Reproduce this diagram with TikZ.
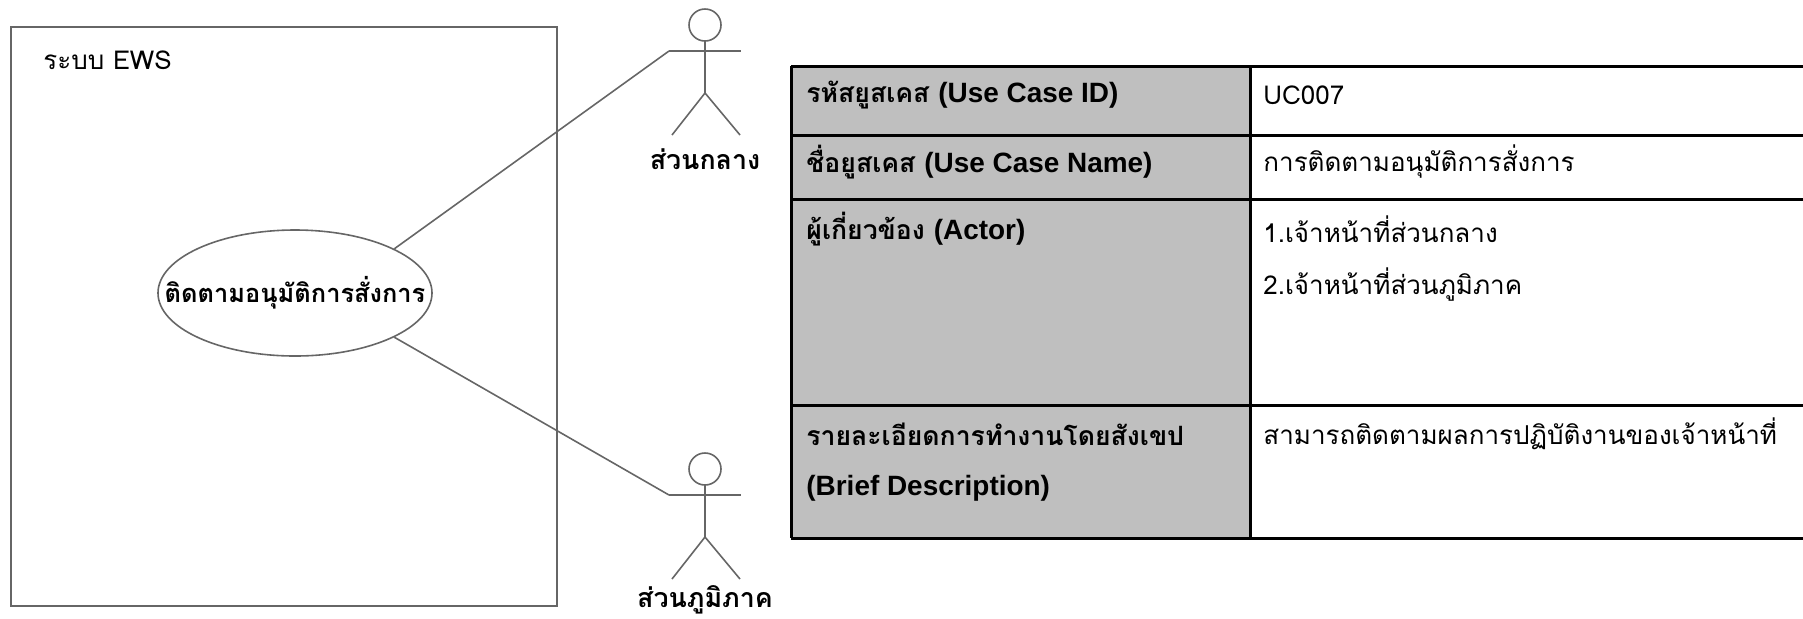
\documentclass[tikz,border=0pt]{standalone}
\usepackage{fontspec}
\setmainfont[Script=Thai]{Loma}
\newfontfamily\latin[Scale=1.05]{Liberation Sans}
\usetikzlibrary{shapes.geometric}
\tikzset{
  uml/.style={draw=black!60, line width=0.8pt},
  grid/.style={line width=1.5pt},
  cell/.style={anchor=west, inner sep=0pt, font=\fontsize{13}{15}\selectfont},
  head/.style={cell, font=\fontsize{13.3}{15}\selectfont\bfseries},
  actor/.style={font=\fontsize{13.4}{15}\selectfont\bfseries}
}
\begin{document}
\begin{tikzpicture}[x=0.5pt,y=-0.5pt]
	\useasboundingbox (0,0) rectangle (1803,618);
	% use case diagram
	\draw[uml] (11,27) rectangle (557,606);
	\node[anchor=west, inner sep=0pt, font=\fontsize{13}{15}\selectfont] (sys) at (43,60) {ระบบ EWS};
	\node[uml, ellipse, minimum width=137pt, minimum height=63pt, inner sep=0pt, font=\fontsize{12.7}{15}\selectfont\bfseries] (uc) at (295,293) {\makebox[0pt]{ติดตามอนุมัติการสั่งการ}};
	\foreach \y/\n in {0/a1,444/a2} {
		\draw[uml] (705,25+\y) circle (16);
		\draw[uml] (669,51+\y) -- (741,51+\y);
		\draw[uml] (705,41+\y) -- (705,93+\y);
		\draw[uml] (672,135+\y) -- (705,93+\y) -- (740,135+\y);
		\coordinate (\n) at (669,51+\y);
	}
	\node[actor] (act1) at (705,159) {ส่วนกลาง};
	\node[actor] (act2) at (705,600) {ส่วนภูมิภาค};
	\draw[uml] (uc.24) -- (a1);
	\draw[uml] (uc.-24) -- (a2);
	% table
	\fill[black!25] (791,66) rectangle (1250,538);
	\foreach \y in {66,135,199,405,538} \draw[grid] (791,\y) -- (1803,\y);
	\foreach \x in {791,1250} \draw[grid] (\x,66) -- (\x,538);
	\node[head] (idkey) at (806,95) {รหัสยูสเคส {\latin(Use Case ID)}};
	\node[cell] (idval) at (1263,95) {UC007};
	\node[head] (namekey) at (806,162) {ชื่อยูสเคส {\latin(Use Case Name)}};
	\node[cell] (nameval) at (1263,162) {การติดตามอนุมัติการสั่งการ};
	\node[head] (actkey) at (806,229) {ผู้เกี่ยวข้อง {\latin(Actor)}};
	\node[cell] (actval1) at (1263,229) {1.เจ้าหน้าที่ส่วนกลาง};
	\node[cell] (actval2) at (1263,285) {2.เจ้าหน้าที่ส่วนภูมิภาค};
	\node[head] (desckey1) at (806,434) {รายละเอียดการทำงานโดยสังเขป};
	\node[head] (desckey2) at (806,488) {\latin(Brief Description)};
	\node[cell] (descval) at (1263,434) {สามารถติดตามผลการปฏิบัติงานของเจ้าหน้าที่};
\end{tikzpicture}
\end{document}
